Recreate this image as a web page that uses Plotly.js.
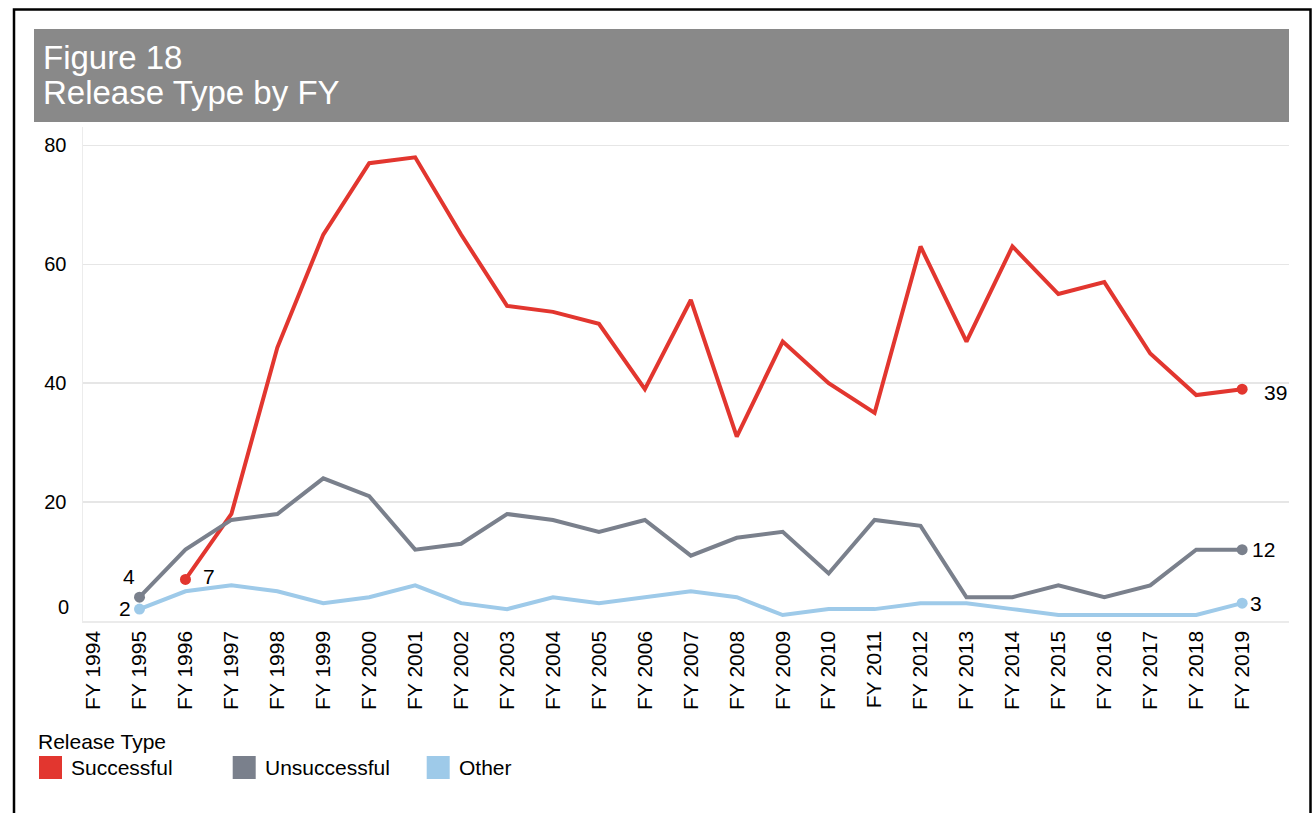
<!DOCTYPE html>
<html>
<head>
<meta charset="utf-8">
<script src="https://cdn.plot.ly/plotly-3.0.1.min.js"></script>
<style>
  html, body { margin: 0; padding: 0; background: #ffffff; }
  #chart { width: 1312px; height: 813px; }
</style>
</head>
<body>
<div id="chart"></div>
<script>
// ---- Data ----
const fiscalYears = ["FY 1994","FY 1995","FY 1996","FY 1997","FY 1998","FY 1999","FY 2000","FY 2001",
  "FY 2002","FY 2003","FY 2004","FY 2005","FY 2006","FY 2007","FY 2008","FY 2009","FY 2010","FY 2011",
  "FY 2012","FY 2013","FY 2014","FY 2015","FY 2016","FY 2017","FY 2018","FY 2019"];
const successful   = [null,null,7,18,46,65,77,78,65,53,52,50,39,54,31,47,40,35,63,47,63,55,57,45,38,39];
const unsuccessful = [null,4,12,17,18,24,21,12,13,18,17,15,17,11,14,15,8,17,16,4,4,6,4,6,12,12];
const other        = [null,2,5,6,5,3,4,6,3,2,4,3,4,5,4,1,2,2,3,3,2,1,1,1,1,3];
const seriesNames  = ["Successful","Unsuccessful","Other"];
const yTickValues  = [20,40,60,80];
const titleLines   = ["Figure 18","Release Type by FY"];
const legendTitle  = "Release Type";

// ---- Styling ----
const colors = ["#e2362f","#7a808c","#9ecae9"];
const FONT = "Arial, 'Liberation Sans', sans-serif";
const W = 1312, H = 813;
const M = {l: 83, r: 23, t: 127, b: 192};
const plotW = W - M.l - M.r, plotH = H - M.t - M.b;
const px2x = px => (px - M.l) / plotW;
const py2y = py => (H - M.b - py) / plotH;

const allSeries = [successful, unsuccessful, other];

function firstIdx(a){ return a.findIndex(v => v !== null); }
function lastIdx(a){ for (let i=a.length-1;i>=0;i--) if (a[i]!==null) return i; return -1; }

const traces = allSeries.map((vals, s) => {
  const f = firstIdx(vals), l = lastIdx(vals);
  return {
    type: "scatter", mode: "lines+markers",
    name: seriesNames[s], x: fiscalYears, y: vals,
    line: {color: colors[s], width: 4},
    marker: {color: colors[s], opacity: 1, line: {width: 0},
             size: vals.map((v,i) => (i===f || i===l) ? 11 : 0.1)},
    connectgaps: false, showlegend: false, hoverinfo: "skip"
  };
});

// end-point labels (offsets are pure styling)
const labelOffsets = [
  {first: [24, 3],  last: [33, -3]},
  {first: [-11, 21], last: [21, 0]},
  {first: [-15, 1], last: [14, 0]}
];
const annotations = [];
allSeries.forEach((vals, s) => {
  const f = firstIdx(vals), l = lastIdx(vals);
  [[f, labelOffsets[s].first],[l, labelOffsets[s].last]].forEach(([i, off]) => {
    annotations.push({
      x: fiscalYears[i], y: vals[i], xref: "x", yref: "y",
      text: String(vals[i]), showarrow: false,
      xanchor: "center", yanchor: "middle",
      xshift: off[0], yshift: off[1],
      font: {family: FONT, size: 21, color: "#000000"}
    });
  });
});
// the "0" tick label sits slightly above the baseline in the reference
annotations.push({
  x: px2x(71), y: 0, xref: "paper", yref: "y", text: "0", showarrow: false,
  xanchor: "right", yanchor: "middle", yshift: 14,
  font: {family: FONT, size: 20, color: "#000000"}
});

// title (two lines inside the grey banner)
const titleCenters = [57, 93];
titleLines.forEach((t, k) => {
  annotations.push({
    x: px2x(41), y: py2y(titleCenters[k]), xref: "paper", yref: "paper",
    text: t, showarrow: false, xanchor: "left", yanchor: "middle",
    font: {family: FONT, size: 33, color: "#ffffff"}
  });
});

// manual legend
annotations.push({
  x: px2x(36), y: py2y(741), xref: "paper", yref: "paper", text: legendTitle,
  showarrow: false, xanchor: "left", yanchor: "middle",
  font: {family: FONT, size: 21, color: "#000000"}
});
const swatchX = [39, 232.7, 426.7];
const shapes = [];
seriesNames.forEach((nm, s) => {
  shapes.push({type: "rect", xref: "paper", yref: "paper",
    x0: px2x(swatchX[s]), x1: px2x(swatchX[s] + 23),
    y0: py2y(779), y1: py2y(756),
    fillcolor: colors[s], line: {width: 0}});
  annotations.push({
    x: px2x(swatchX[s] + 30), y: py2y(767.5), xref: "paper", yref: "paper",
    text: nm, showarrow: false, xanchor: "left", yanchor: "middle",
    font: {family: FONT, size: 21, color: "#000000"}
  });
});
// title banner and outer frame
shapes.push({type: "rect", xref: "paper", yref: "paper", layer: "below",
  x0: px2x(34), x1: px2x(1289), y0: py2y(122), y1: py2y(29),
  fillcolor: "#898989", line: {width: 0}});
shapes.push({type: "rect", xref: "paper", yref: "paper", layer: "above",
  x0: px2x(14), x1: px2x(1310.5), y0: py2y(850), y1: py2y(9.5),
  fillcolor: "rgba(0,0,0,0)", line: {color: "#000000", width: 2.5}});

const layout = {
  width: W, height: H,
  margin: M,
  paper_bgcolor: "#ffffff", plot_bgcolor: "#ffffff",
  showlegend: false,
  xaxis: {
    type: "category", categoryorder: "array", categoryarray: fiscalYears,
    range: [-0.23, 26.02],
    tickangle: -90, ticks: "", ticklabelstandoff: 0,
    tickfont: {family: FONT, size: 21, color: "#000000"},
    showgrid: false, zeroline: false,
    showline: true, linecolor: "#ebebeb", linewidth: 1.5,
    fixedrange: true
  },
  yaxis: {
    range: [0, 494 / 5.945],
    tickmode: "array", tickvals: yTickValues, ticktext: yTickValues.map(String),
    ticks: "", ticklabelstandoff: 11,
    tickfont: {family: FONT, size: 20, color: "#000000"},
    showgrid: true, gridcolor: "#e6e6e6", gridwidth: 1.5,
    zeroline: false,
    showline: true, linecolor: "#ececec", linewidth: 1.5,
    fixedrange: true
  },
  annotations: annotations,
  shapes: shapes
};

Plotly.newPlot("chart", traces, layout, {staticPlot: true, displayModeBar: false});
</script>
</body>
</html>
